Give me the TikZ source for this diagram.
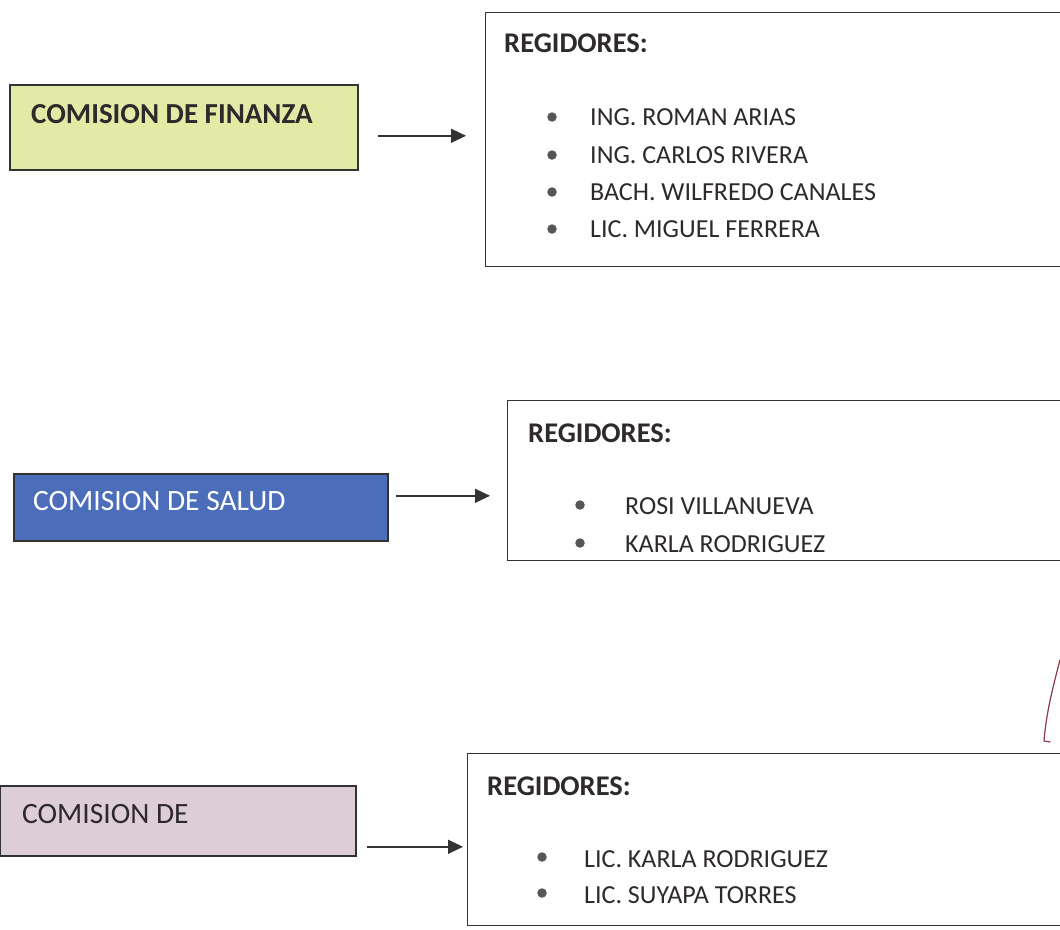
\documentclass[tikz,border=0pt]{standalone}
\usepackage{fontspec}
\setmainfont{Carlito}
\usetikzlibrary{arrows.meta}
\definecolor{finfill}{HTML}{E2EBA6}
\definecolor{salfill}{HTML}{4C6DBA}
\definecolor{comfill}{HTML}{DCCDD6}
\definecolor{ink}{HTML}{2E2A2C}
\definecolor{edge}{HTML}{333333}
\definecolor{pen}{HTML}{8A3A4A}
\tikzset{
  combox/.style={draw=edge, line width=1.6pt, anchor=north west, inner sep=0pt},
  regbox/.style={draw=edge, line width=1.4pt, anchor=north west, inner sep=0pt},
  title/.style={anchor=base west, inner sep=0pt, font=\fontsize{28.5}{30}\selectfont\bfseries, text=ink},
  item/.style={anchor=base west, inner sep=0pt, font=\fontsize{26}{30}\selectfont, text=ink},
  comtext/.style={anchor=base west, inner sep=0pt, font=\fontsize{29.5}{32}\selectfont},
  bul/.style={circle, fill=ink!80, inner sep=0pt, minimum size=9.5pt},
  arr/.style={draw=edge, line width=1.5pt, -{Triangle[length=15pt,width=14pt]}}
}
\begin{document}
\begin{tikzpicture}[x=1pt,y=-1pt]
\useasboundingbox (0,0) rectangle (1060,929);
\clip (0,0) rectangle (1060,929);
\fill[white] (0,0) rectangle (1060,929);

% ---------- Row 1 ----------
\node[combox, fill=finfill, minimum width=348pt, minimum height=85pt] (fin) at (9,84) {};
\node[comtext, font=\fontsize{29}{32}\selectfont\bfseries, text=ink] (fint) at (31,123) {COMISION DE FINANZA};
\node[regbox, minimum width=600pt, minimum height=254pt] (reg1) at (485,12) {};
\node[title] (t1) at (504,52) {REGIDORES:};
\node[bul] (b11) at (552,117) {};
\node[bul] (b12) at (552,155) {};
\node[bul] (b13) at (552,192) {};
\node[bul] (b14) at (552,229) {};
\node[item] (i11) at (590,125) {ING. ROMAN ARIAS};
\node[item] (i12) at (590,163) {ING. CARLOS RIVERA};
\node[item] (i13) at (590,200) {BACH. WILFREDO CANALES};
\node[item] (i14) at (590,237) {LIC. MIGUEL FERRERA};
\draw[arr, shorten <=19pt, shorten >=19pt] ([yshift=-8.5pt]fin.east) -- ([yshift=-8.5pt]fin.east -| reg1.west);

% ---------- Row 2 ----------
\node[combox, fill=salfill, minimum width=374pt, minimum height=67pt] (sal) at (13,473) {};
\node[comtext, text=white] (salt) at (33,510) {COMISION DE SALUD};
\node[regbox, minimum width=580pt, minimum height=160pt] (reg2) at (507,400) {};
\node[title] (t2) at (528,442) {REGIDORES:};
\node[bul] (b21) at (580,505) {};
\node[bul] (b22) at (580,543) {};
\node[item] (i21) at (625,514) {ROSI VILLANUEVA};
\node[item] (i22) at (625,552) {KARLA RODRIGUEZ};
\draw[arr, shorten <=7pt, shorten >=17pt] ([yshift=11.5pt]sal.east) -- ([yshift=11.5pt]sal.east -| reg2.west);

% ---------- Row 3 ----------
\node[combox, fill=comfill, minimum width=356pt, minimum height=70pt] (com) at (-1,785) {};
\node[comtext, text=ink] (comt) at (22,823) {COMISION DE};
\node[regbox, minimum width=620pt, minimum height=172pt] (reg3) at (467,753) {};
\node[title] (t3) at (487,795) {REGIDORES:};
\node[bul] (b31) at (542,857) {};
\node[bul] (b32) at (542,893) {};
\node[item] (i31) at (584,867) {LIC. KARLA RODRIGUEZ};
\node[item] (i32) at (584,903) {LIC. SUYAPA TORRES};
\draw[arr, shorten <=10pt, shorten >=4pt] ([yshift=-26pt]com.east) -- ([yshift=-26pt]com.east -| reg3.west);

% ---------- pen stroke ----------
\draw[pen, line width=1.2pt, line cap=round, line join=round] (1060,660) .. controls (1052,690) and (1046,715) .. (1044,741) -- (1050,742);
\end{tikzpicture}
\end{document}
